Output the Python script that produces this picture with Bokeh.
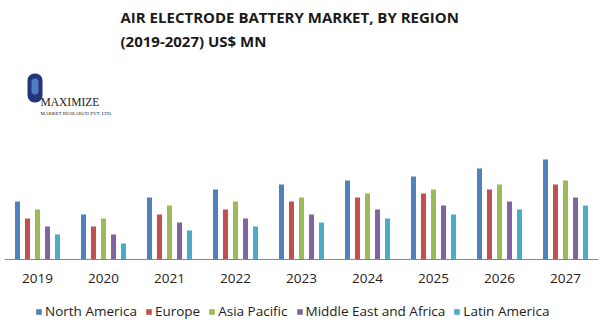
from bokeh.plotting import figure
from bokeh.models import FactorRange, Label, Legend, LegendItem, ColumnDataSource, BoxAnnotation
from bokeh.transform import dodge
from bokeh.embed import file_html
from bokeh.resources import INLINE

years = ["2019", "2020", "2021", "2022", "2023", "2024", "2025", "2026", "2027"]
series = ["North America", "Europe", "Asia Pacific", "Middle East and Africa", "Latin America"]
north_america = [58, 45, 62, 70, 75, 79, 83, 91, 100]
europe = [41, 33, 45, 50, 58, 62, 66, 70, 75]
asia_pacific = [50, 41, 54, 58, 62, 66, 70, 75, 79]
mea = [33, 25, 37, 41, 45, 50, 54, 58, 62]
latin_america = [25, 16, 29, 33, 37, 41, 45, 50, 54]
colors = ["#4F81BD", "#C0504D", "#9BBB59", "#8064A2", "#4BACC6"]

src = ColumnDataSource(dict(year=years, na=north_america, eu=europe, ap=asia_pacific,
                            mea=mea, la=latin_america))

W, H = 601, 325
FL, BASE = 4, 259  # frame left edge / baseline row, canvas px

p = figure(width=W, height=H, x_range=FactorRange(*years, range_padding=0),
           y_range=(-(H - BASE), BASE), output_backend="svg", toolbar_location=None,
           x_axis_location=None, y_axis_location=None,
           min_border_left=FL, min_border_right=3, min_border_top=0, min_border_bottom=0)
p.outline_line_color = None
p.grid.visible = False
p.background_fill_color = "white"

cols = ["na", "eu", "ap", "mea", "la"]
offsets = [-0.303, -0.152, 0.0, 0.152, 0.303]
renderers = []
for c, off, col in zip(cols, offsets, colors):
    r = p.vbar(x=dodge("year", off, range=p.x_range), top=c, width=0.076, source=src,
               fill_color=col, line_color=None)
    renderers.append(r)

# category axis line and labels
p.segment(x0=0, x1=len(years), y0=0, y1=0, line_color="#868686", line_width=1)
p.text(x=years, y=[0] * len(years), text=years, y_offset=14, text_align="center",
       text_baseline="top", text_font={"value": "Open Sans"}, text_font_size="13.5px",
       text_color="#222222")

legend = Legend(items=[LegendItem(label=s, renderers=[r]) for s, r in zip(series, renderers)],
                orientation="horizontal", location=(31, 5), padding=0, margin=0,
                spacing=8, glyph_width=7, glyph_height=7, label_standoff=3,
                label_text_font="Open Sans", label_text_font_size="13.5px",
                label_text_color="#222222", border_line_color=None,
                background_fill_alpha=0, label_height=14)
p.add_layout(legend, "center")


def lab(x, y, text, **kw):
    # x, y given in canvas pixels (y from top, at text baseline)
    p.add_layout(Label(x=x - FL, y=H - y, x_units="screen", y_units="screen", text=text, **kw))


lab(120, 26, "AIR ELECTRODE BATTERY MARKET, BY REGION", text_font="Open Sans",
    text_font_style="bold", text_font_size="15px", text_color="#1a1a1a")
lab(120, 50, "(2019-2027) US$ MN", text_font="Open Sans",
    text_font_style="bold", text_font_size="15px", text_color="#1a1a1a")

# logo
p.add_layout(BoxAnnotation(left=27 - FL, right=42 - FL, top=H - 73, bottom=H - 102,
                           left_units="screen", right_units="screen",
                           top_units="screen", bottom_units="screen",
                           fill_color="#26357a", fill_alpha=1, line_color=None,
                           border_radius=7))
p.add_layout(BoxAnnotation(left=31 - FL, right=38 - FL, top=H - 78, bottom=H - 94,
                           left_units="screen", right_units="screen",
                           top_units="screen", bottom_units="screen",
                           fill_color="#5d8fd6", fill_alpha=0.8, line_color=None,
                           border_radius=4))
lab(40, 107, "MAXIMIZE", text_font="Liberation Serif", text_font_size="11.5px",
    text_color="#1a1a1a")
lab(40, 115, "MARKET RESEARCH PVT. LTD.", text_font="Liberation Serif", text_font_size="5px",
    text_color="#1a1a1a")

open("out.html", "w").write(file_html(p, INLINE))
